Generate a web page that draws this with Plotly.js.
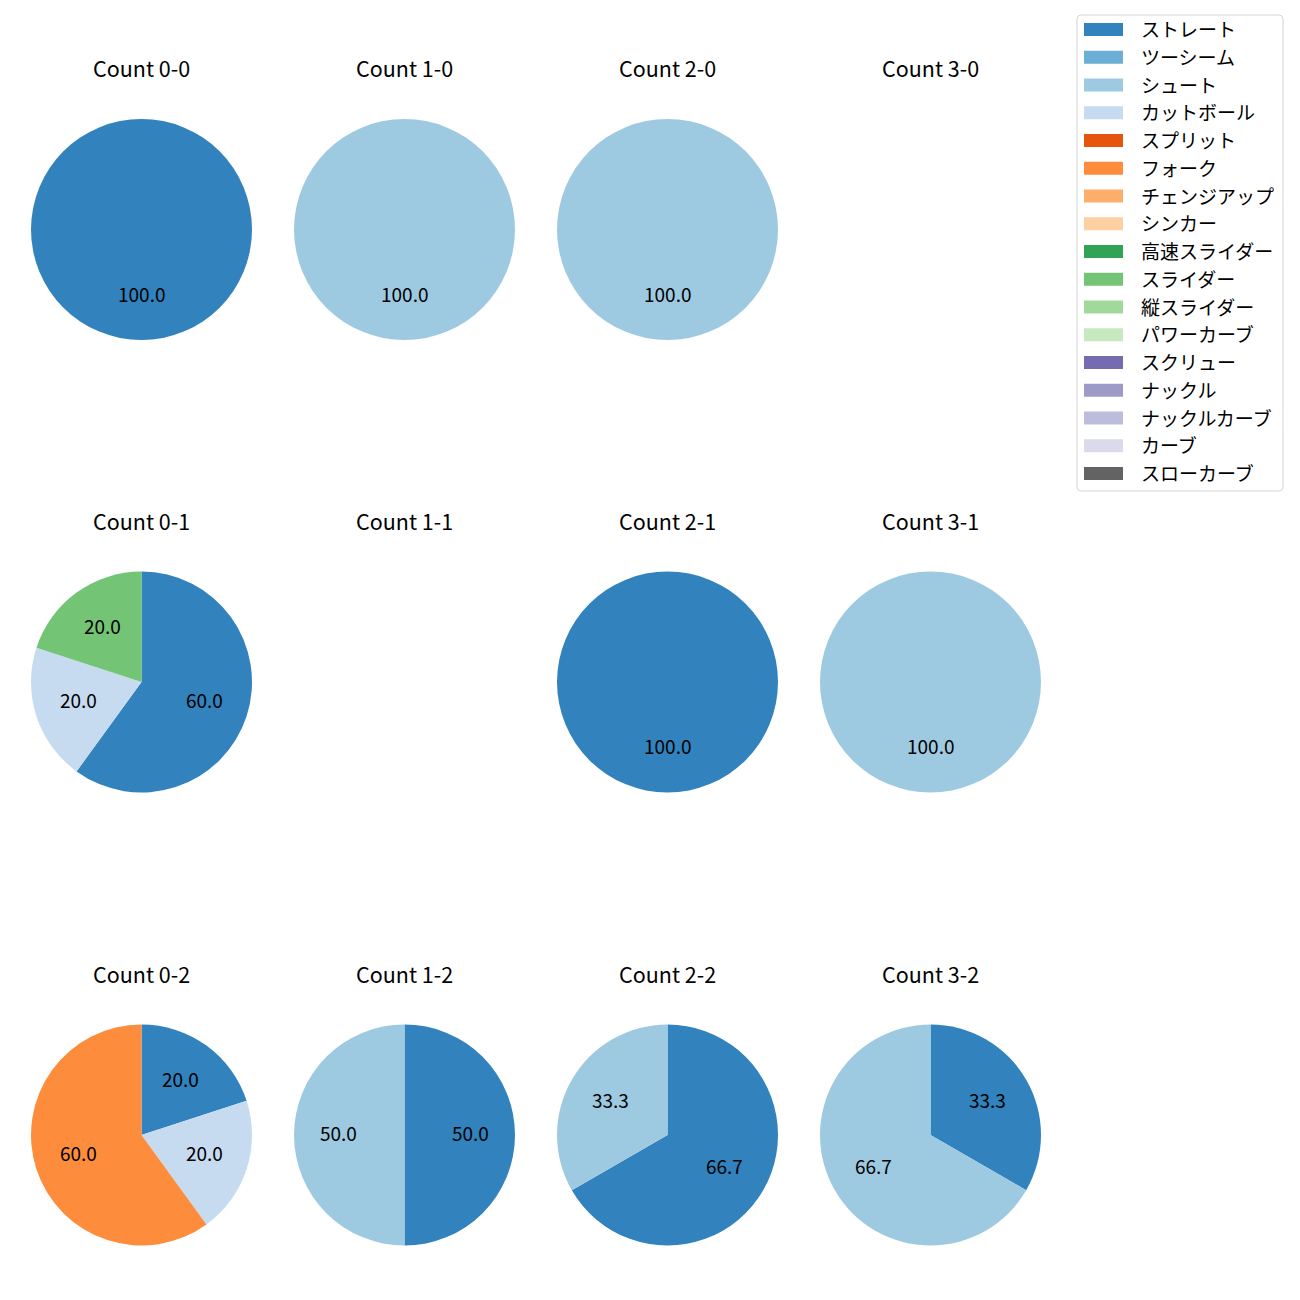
<!DOCTYPE html>
<html>
<head>
<meta charset="utf-8">
<script src="https://cdn.plot.ly/plotly-3.0.1.min.js"></script>
<style>html,body{margin:0;padding:0;background:#fff;}</style>
</head>
<body>
<div id="chart" style="width:1300px;height:1300px;"></div>
<script>
// ---- data ----
const pitchTypes = ['ストレート','ツーシーム','シュート','カットボール','スプリット','フォーク','チェンジアップ','シンカー','高速スライダー','スライダー','縦スライダー','パワーカーブ','スクリュー','ナックル','ナックルカーブ','カーブ','スローカーブ'];
const pitchColors = ['#3182bd','#6baed6','#9ecae1','#c6dbef','#e6550d','#fd8d3c','#fdae6b','#fdd0a2','#31a354','#74c476','#a1d99b','#c7e9c0','#756bb1','#9e9ac8','#bcbddc','#dadaeb','#636363'];

const countTitles = ['Count 0-0','Count 1-0','Count 2-0','Count 3-0',
                     'Count 0-1','Count 1-1','Count 2-1','Count 3-1',
                     'Count 0-2','Count 1-2','Count 2-2','Count 3-2'];

const labels00 = ['ストレート'];            const values00 = [1];
const labels10 = ['シュート'];              const values10 = [1];
const labels20 = ['シュート'];              const values20 = [1];
const labels30 = [];                        const values30 = [];
const labels01 = ['ストレート','カットボール','スライダー']; const values01 = [3,1,1];
const labels11 = [];                        const values11 = [];
const labels21 = ['ストレート'];            const values21 = [1];
const labels31 = ['シュート'];              const values31 = [1];
const labels02 = ['ストレート','カットボール','フォーク'];   const values02 = [1,1,3];
const labels12 = ['ストレート','シュート'];  const values12 = [1,1];
const labels22 = ['ストレート','シュート'];  const values22 = [2,1];
const labels32 = ['ストレート','シュート'];  const values32 = [1,2];

const allLabels = [labels00,labels10,labels20,labels30,labels01,labels11,labels21,labels31,labels02,labels12,labels22,labels32];
const allValues = [values00,values10,values20,values30,values01,values11,values21,values31,values02,values12,values22,values32];

// ---- layout geometry ----
const W = 1300, H = 1300;
const colCenters = [141.5, 404.5, 667.5, 930.5];
const rowCenters = [229.5, 682, 1135];
const R = 110.5;
const titleOffset = 161.5;
const textShift = 2.5;
const FONT = '"Noto Sans CJK JP", "DejaVu Sans", sans-serif';

const colorOf = l => pitchColors[pitchTypes.indexOf(l)];
const px = x => x / W;
const py = y => 1 - y / H;

const traces = [];
const annotations = [];
const shapes = [];

for (let i = 0; i < 12; i++) {
  const cx = colCenters[i % 4], cy = rowCenters[Math.floor(i / 4)];
  annotations.push({
    text: countTitles[i], xref: 'paper', yref: 'paper',
    x: px(cx), y: py(cy - titleOffset), xanchor: 'center', yanchor: 'middle',
    showarrow: false, font: {family: FONT, size: 21.5, color: '#000'}
  });
  const labs = allLabels[i], vals = allValues[i];
  if (!labs.length) continue;
  traces.push({
    type: 'pie', labels: labs, values: vals, sort: false,
    direction: 'clockwise', rotation: 0,
    marker: {colors: labs.map(colorOf), line: {width: 0}},
    textinfo: 'none', showlegend: false, hoverinfo: 'label+percent',
    domain: {x: [px(cx - R), px(cx + R)], y: [py(cy + R), py(cy - R)]}
  });
  const total = vals.reduce((a, b) => a + b, 0);
  let cum = 0;
  vals.forEach(v => {
    const f = v / total;
    const theta = (90 - 360 * (cum + f / 2)) * Math.PI / 180;
    cum += f;
    const tx = cx + 0.6 * R * Math.cos(theta);
    const ty = cy - 0.6 * R * Math.sin(theta) - textShift;
    annotations.push({
      text: (f * 100).toFixed(1), xref: 'paper', yref: 'paper',
      x: px(tx), y: py(ty), xanchor: 'center', yanchor: 'middle',
      showarrow: false, font: {family: FONT, size: 19, color: '#000'}
    });
  });
}

// ---- legend ----
const lgX0 = 1077, lgX1 = 1283, lgY0 = 15, lgY1 = 491, rr = 4;
const rp = (x, y) => px(x) + ',' + py(y);
shapes.push({
  type: 'path', xref: 'paper', yref: 'paper',
  path: 'M' + rp(lgX0 + rr, lgY0) + ' L' + rp(lgX1 - rr, lgY0) +
        ' Q' + rp(lgX1, lgY0) + ' ' + rp(lgX1, lgY0 + rr) +
        ' L' + rp(lgX1, lgY1 - rr) + ' Q' + rp(lgX1, lgY1) + ' ' + rp(lgX1 - rr, lgY1) +
        ' L' + rp(lgX0 + rr, lgY1) + ' Q' + rp(lgX0, lgY1) + ' ' + rp(lgX0, lgY1 - rr) +
        ' L' + rp(lgX0, lgY0 + rr) + ' Q' + rp(lgX0, lgY0) + ' ' + rp(lgX0 + rr, lgY0) + ' Z',
  fillcolor: 'rgba(255,255,255,0.8)', line: {color: '#d5d5d5', width: 1}, layer: 'above'
});
const entryY0 = 29.5, entryStep = 27.75;
pitchTypes.forEach((l, k) => {
  const yc = entryY0 + k * entryStep;
  shapes.push({
    type: 'rect', xref: 'paper', yref: 'paper',
    x0: px(1084), x1: px(1123), y0: py(yc + 6.5), y1: py(yc - 6.5),
    fillcolor: pitchColors[k], line: {width: 0}, layer: 'above'
  });
  annotations.push({
    text: l, xref: 'paper', yref: 'paper', x: px(1139), y: py(yc - 0.8),
    xanchor: 'left', yanchor: 'middle', showarrow: false,
    font: {family: FONT, size: 19, color: '#000'}
  });
});

const layout = {
  width: W, height: H, margin: {l: 0, r: 0, t: 0, b: 0},
  paper_bgcolor: '#fff', plot_bgcolor: '#fff',
  showlegend: false, annotations: annotations, shapes: shapes,
  font: {family: FONT}
};
Plotly.newPlot('chart', traces, layout, {displayModeBar: false, staticPlot: true});
</script>
</body>
</html>
